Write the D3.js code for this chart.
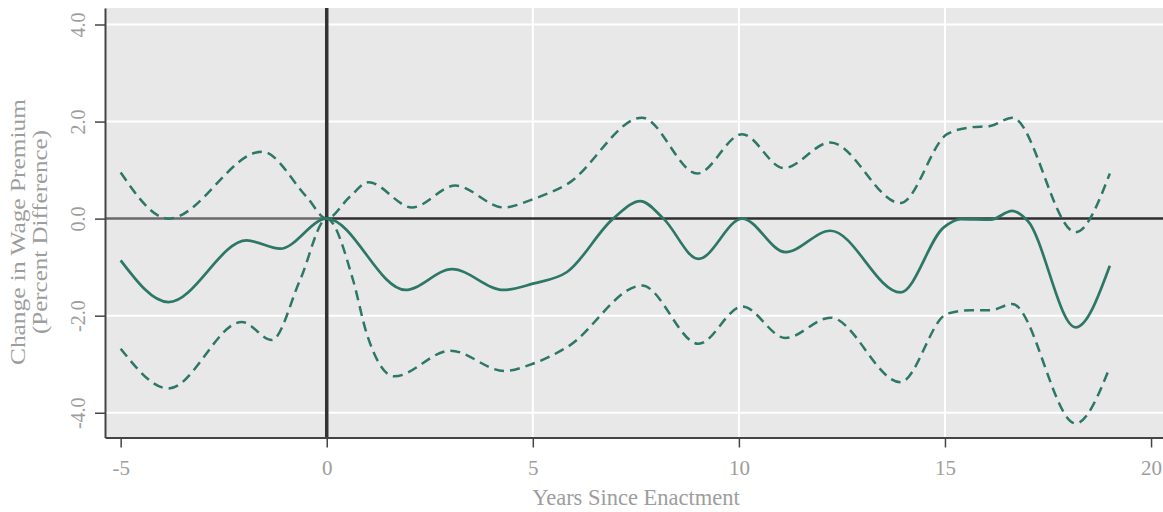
<!DOCTYPE html>
<html>
<head>
<meta charset="utf-8">
<script src="https://cdn.jsdelivr.net/npm/d3@7"></script>
<style>
  html, body { margin: 0; padding: 0; background: #ffffff; }
  svg { display: block; }
</style>
</head>
<body>
<svg id="chart" width="1163" height="512"></svg>
<script>
// ---- data ----
const xTicks = [-5, 0, 5, 10, 15, 20];
const yTicks = [-4, -2, 0, 2, 4];
const xGrid = [5, 10, 15];
const yGrid = [-4, -2, 2, 4];

const estYears = [-5, -3.84, -1.94, -1.13, 0, 1.91, 3.04, 4.29, 5.0, 5.83, 6.95, 7.61, 8.17, 9.02, 10.08, 11.13, 12.22, 13.92, 14.97, 15.38, 16.11, 16.63, 17.0, 18.17, 19.0];
const estimate = [-0.86, -1.72, -0.45, -0.62, 0, -1.47, -1.04, -1.47, -1.34, -1.1, 0, 0.36, 0, -0.83, 0.0, -0.69, -0.25, -1.52, -0.18, -0.01, -0.02, 0.16, -0.04, -2.24, -0.97];

const upperYears = [-5, -3.84, -1.57, -0.49, 0, 0.56, 1.01, 2.07, 3.12, 4.29, 5.0, 5.83, 7.65, 8.99, 10.08, 11.09, 12.22, 13.92, 15.05, 15.62, 16.1, 16.63, 18.17, 19.0];
const upper = [0.95, 0.0, 1.38, 0.45, 0, 0.45, 0.75, 0.23, 0.68, 0.23, 0.4, 0.71, 2.08, 0.93, 1.74, 1.04, 1.57, 0.32, 1.74, 1.88, 1.91, 2.08, -0.28, 0.93];

const lowerYears = [-5, -3.84, -2.06, -1.33, -0.65, 0, 0.64, 0.97, 1.64, 3.0, 4.31, 5.0, 5.83, 7.65, 9.02, 10.08, 11.13, 12.22, 13.92, 15.05, 15.62, 16.1, 16.63, 18.17, 19.0];
const lower = [-2.68, -3.5, -2.13, -2.5, -1.27, 0, -1.27, -2.37, -3.25, -2.72, -3.14, -2.99, -2.65, -1.38, -2.58, -1.81, -2.46, -2.04, -3.37, -1.96, -1.89, -1.89, -1.76, -4.22, -3.06];

const xLabel = "Years Since Enactment";
const yLabel1 = "Change in Wage Premium";
const yLabel2 = "(Percent Difference)";

// ---- layout ----
const mLeft = 105, mTop = 8, mBottom = 437.5, mRight = 1163;
const lineColor = "#2d7767";
const textColor = "#9d9d9d";
const font = "'Liberation Serif', 'Times New Roman', serif";

const svg = d3.select("#chart");
const x = d3.scaleLinear().domain([-5.38, 20.29]).range([mLeft, mRight]);
const y = d3.scaleLinear().domain([-4.51, 4.34]).range([mBottom, mTop]);

// panel
svg.append("rect").attr("x", mLeft).attr("y", mTop)
  .attr("width", mRight - mLeft).attr("height", mBottom - mTop)
  .attr("fill", "#e8e8e8");

// grid
svg.append("g").selectAll("line").data(yGrid).join("line")
  .attr("x1", mLeft).attr("x2", mRight)
  .attr("y1", d => y(d)).attr("y2", d => y(d))
  .attr("stroke", "#ffffff").attr("stroke-width", 2);
svg.append("g").selectAll("line").data(xGrid).join("line")
  .attr("x1", d => x(d)).attr("x2", d => x(d))
  .attr("y1", mTop).attr("y2", mBottom)
  .attr("stroke", "#ffffff").attr("stroke-width", 2);

// reference lines
svg.append("line").attr("x1", mLeft).attr("x2", x(0))
  .attr("y1", y(0)).attr("y2", y(0))
  .attr("stroke", "#6a6a6a").attr("stroke-width", 2.5);
svg.append("line").attr("x1", x(0)).attr("x2", mRight)
  .attr("y1", y(0)).attr("y2", y(0))
  .attr("stroke", "#2e2e2e").attr("stroke-width", 2.5);
svg.append("line").attr("x1", x(0)).attr("x2", x(0))
  .attr("y1", mTop).attr("y2", mBottom)
  .attr("stroke", "#333333").attr("stroke-width", 3.5);

// curves
const line = d3.line().x(d => x(d[0])).y(d => y(d[1])).curve(d3.curveMonotoneX);
const zip = (a, b) => a.map((v, i) => [v, b[i]]);

svg.append("path").datum(zip(upperYears, upper))
  .attr("d", line).attr("fill", "none")
  .attr("stroke", lineColor).attr("stroke-width", 2.5)
  .attr("stroke-dasharray", "10,6");
svg.append("path").datum(zip(lowerYears, lower))
  .attr("d", line).attr("fill", "none")
  .attr("stroke", lineColor).attr("stroke-width", 2.5)
  .attr("stroke-dasharray", "10,6");
svg.append("path").datum(zip(estYears, estimate))
  .attr("d", line).attr("fill", "none")
  .attr("stroke", lineColor).attr("stroke-width", 2.7);

// axes
const xAxis = svg.append("g").attr("transform", `translate(0,${mBottom})`)
  .call(d3.axisBottom(x).tickValues(xTicks).tickFormat(d => String(d)).tickSize(10).tickSizeOuter(0));
xAxis.select(".domain").attr("stroke", "#444").attr("stroke-width", 2);
xAxis.selectAll(".tick line").attr("stroke", "#444").attr("stroke-width", 1.5);
xAxis.selectAll(".tick text")
  .attr("y", 37).attr("dy", 0)
  .attr("font-family", font).attr("font-size", 21)
  .attr("fill", textColor);

const yAxis = svg.append("g").attr("transform", `translate(${mLeft},0)`)
  .call(d3.axisLeft(y).tickValues(yTicks).tickFormat(d => d.toFixed(1)).tickSize(10).tickSizeOuter(0));
yAxis.select(".domain").attr("stroke", "#444").attr("stroke-width", 2);
yAxis.selectAll(".tick line").attr("stroke", "#444").attr("stroke-width", 1.5);
yAxis.selectAll(".tick text")
  .attr("transform", "rotate(-90)")
  .attr("x", 0).attr("y", -20).attr("dy", 0)
  .attr("text-anchor", "middle")
  .attr("font-family", font).attr("font-size", 20)
  .attr("fill", textColor);

// axis titles
svg.append("text").attr("x", 636).attr("y", 505)
  .attr("text-anchor", "middle")
  .attr("font-family", font).attr("font-size", 22.5)
  .attr("fill", textColor).text(xLabel);

const yl = svg.append("g").attr("transform", "translate(0,232)");
yl.append("text").attr("transform", "translate(25,0) rotate(-90)")
  .attr("text-anchor", "middle")
  .attr("font-family", font).attr("font-size", 21)
  .attr("textLength", 266).attr("lengthAdjust", "spacingAndGlyphs")
  .attr("fill", textColor).text(yLabel1);
yl.append("text").attr("transform", "translate(47,0) rotate(-90)")
  .attr("text-anchor", "middle")
  .attr("font-family", font).attr("font-size", 21)
  .attr("textLength", 204).attr("lengthAdjust", "spacingAndGlyphs")
  .attr("fill", textColor).text(yLabel2);
</script>
</body>
</html>
